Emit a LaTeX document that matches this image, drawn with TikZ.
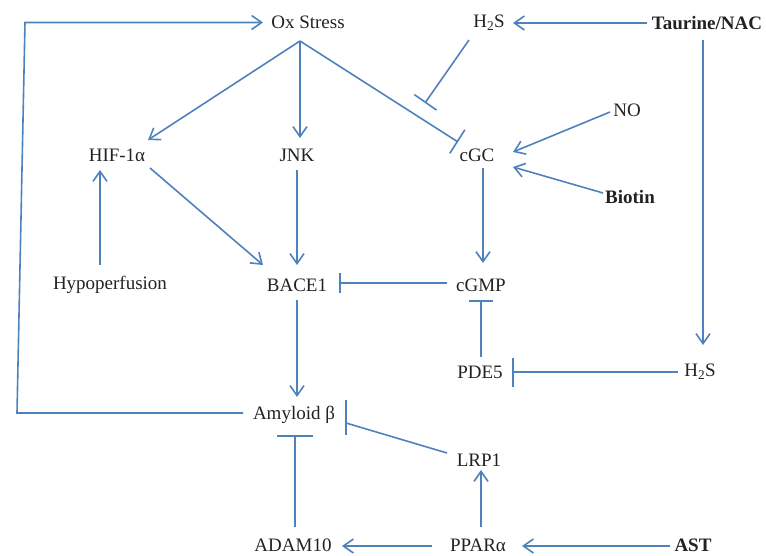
\documentclass[tikz,border=0pt]{standalone}
\usepackage{fontspec}
\setmainfont{Liberation Serif}
\usetikzlibrary{arrows.meta}
\definecolor{edgeblue}{RGB}{79,129,189}
\definecolor{txt}{RGB}{34,34,34}
\begin{document}
\begin{tikzpicture}[x=1pt,y=-1pt,
  lbl/.style={font=\fontsize{19}{22}\selectfont, text=txt, inner sep=0pt},
  blbl/.style={lbl, font=\fontsize{19}{22}\selectfont\bfseries},
  con/.style={draw=edgeblue, line width=1.6pt},
  act/.style={con, -{Straight Barb[length=10pt,width=14pt]}},
  inh/.style={con, -{Bar[width=#1]}}, inh/.default=28pt]
\useasboundingbox (0,0) rectangle (766,556);
% nodes
\node[lbl] (ox) at (308,22) {Ox Stress};
\node[lbl] (h2sa) at (489,23) {H\textsubscript{2}S};
\node[blbl] (tau) at (707,23) {Taurine/NAC};
\node[lbl] (hif) at (117,155) {HIF-1α};
\node[lbl] (jnk) at (297,155) {JNK};
\node[lbl] (cgc) at (477,155) {cGC};
\node[lbl] (no) at (627,110) {NO};
\node[blbl] (bio) at (630,197) {Biotin};
\node[lbl] (hypo) at (110,285) {Hypoperfusion};
\node[lbl] (bace) at (297,285) {BACE1};
\node[lbl] (cgmp) at (481,285) {cGMP};
\node[lbl] (pde) at (480,372) {PDE5};
\node[lbl] (h2sb) at (700,372) {H\textsubscript{2}S};
\node[lbl] (amy) at (294,415) {Amyloid β};
\node[lbl] (lrp) at (479,460) {LRP1};
\node[lbl] (adam) at (293,545) {ADAM10};
\node[lbl] (ppar) at (478,545) {PPARα};
\node[blbl] (ast) at (693,545) {AST};
% free coordinates
\coordinate (lb) at (17,413);
\coordinate (lt) at (25,22.5);
\coordinate (h2sbar) at (425,103);
% connectors
\draw[act] ([shift={(-51,-2)}]amy.center) -- (lb) -- (lt) -- ([shift={(-45,0.5)}]ox.center);
\draw[act] ([shift={(-8,19)}]ox.center) -- ([shift={(31,-15)}]hif.center);
\draw[act] ([shift={(-8,19)}]ox.center) -- ([shift={(3,-17)}]jnk.center);
\draw[inh=28pt] ([shift={(-8,19)}]ox.center) -- ([shift={(-19,-13)}]cgc.center);
\draw[inh=27pt] ([shift={(-20,17)}]h2sa.center) -- (h2sbar);
\draw[act] ([shift={(-60,0)}]tau.center) -- ([shift={(24,0)}]h2sa.center);
\draw[act] ([shift={(-4,17)}]tau.center) -- ([shift={(3,-27)}]h2sb.center);
\draw[act] ([shift={(-17,2)}]no.center) -- ([shift={(36,-3)}]cgc.center);
\draw[act] ([shift={(-27,-4)}]bio.center) -- ([shift={(36,12)}]cgc.center);
\draw[act] ([shift={(6,13)}]cgc.center) -- ([shift={(2,-22)}]cgmp.center);
\draw[inh=20pt] ([shift={(-34,-2)}]cgmp.center) -- ([shift={(42,-2)}]bace.center);
\draw[act] ([shift={(33,13)}]hif.center) -- ([shift={(-34,-20)}]bace.center);
\draw[act] ([shift={(0,15)}]jnk.center) -- ([shift={(0,-20)}]bace.center);
\draw[act] ([shift={(-10,-20)}]hypo.center) -- ([shift={(-17,15)}]hif.center);
\draw[act] ([shift={(0,15)}]bace.center) -- ([shift={(3,-18)}]amy.center);
\draw[inh=24pt] ([shift={(1,-15)}]pde.center) -- ([shift={(0,15)}]cgmp.center);
\draw[inh=29pt] ([shift={(-22,0)}]h2sb.center) -- ([shift={(32,0)}]pde.center);
\draw[con] ([shift={(-32,-7)}]lrp.center) -- ([shift={(52,8)}]amy.center);
\draw[con] ([shift={(52,-15)}]amy.center) -- ([shift={(52,20)}]amy.center);
\draw[inh=36pt] ([shift={(2,-18)}]adam.center) -- ([shift={(1,20)}]amy.center);
\draw[act] ([shift={(-46,1)}]ppar.center) -- ([shift={(49,1)}]adam.center);
\draw[act] ([shift={(3,-18)}]ppar.center) -- ([shift={(2,10)}]lrp.center);
\draw[act] ([shift={(-23,1)}]ast.center) -- ([shift={(44,1)}]ppar.center);
\end{tikzpicture}
\end{document}
